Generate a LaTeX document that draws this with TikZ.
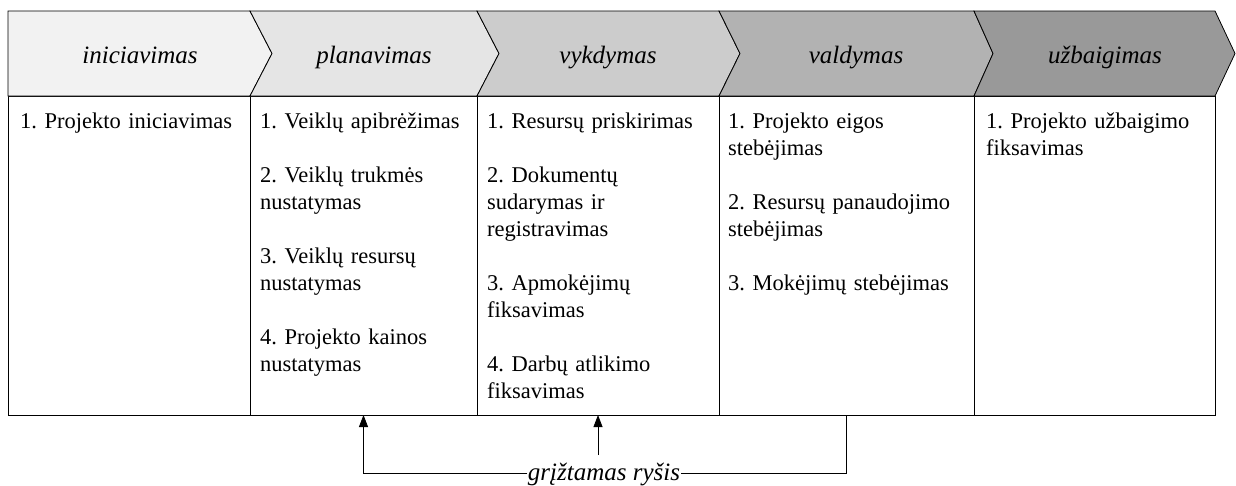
\documentclass[tikz,border=0pt]{standalone}
\usepackage{fontspec}
\setmainfont{Liberation Serif}
\usetikzlibrary{arrows.meta}
\definecolor{phA}{HTML}{F2F2F2}
\definecolor{phB}{HTML}{E5E5E5}
\definecolor{phC}{HTML}{CCCCCC}
\definecolor{phD}{HTML}{B2B2B2}
\definecolor{phE}{HTML}{999999}
\frenchspacing
\begin{document}
\begin{tikzpicture}[x=1pt,y=-1pt,
  phase/.style={draw=black, line width=0.8pt, line join=miter},
  phasetext/.style={font=\fontsize{25}{30}\selectfont\itshape, anchor=base, inner sep=0pt},
  column/.style={draw=black, line width=0.8pt, rectangle, anchor=north west,
    minimum height=319pt, inner sep=0pt, outer sep=0pt},
  item/.style={font=\fontsize{22.5}{27}\selectfont, anchor=base west, inner sep=0pt,
    text width=235pt, align=left},
  fbtext/.style={font=\fontsize{25}{30}\selectfont\itshape, anchor=base, inner sep=0.5pt},
  fbline/.style={draw=black, line width=0.8pt},
  fbarrow/.style={fbline, -{Triangle[length=12pt,width=9pt]}}
]
\useasboundingbox (0,0) rectangle (1236,485);

% activity columns
\node[column, minimum width=242pt] (c1) at (8,96) {};
\node[column, minimum width=227pt] (c2) at (250,96) {};
\node[column, minimum width=242pt] (c3) at (477,96) {};
\node[column, minimum width=255pt] (c4) at (719,96) {};
\node[column, minimum width=241pt] (c5) at (974,96) {};

% phase chevrons
\filldraw[phase, fill=phA] (8,11) -- (250,11) -- (272,53.5) -- (250,96) -- (8,96) -- cycle;
\filldraw[phase, fill=phB] (250,11) -- (477,11) -- (499,53.5) -- (477,96) -- (250,96) -- (272,53.5) -- cycle;
\filldraw[phase, fill=phC] (477,11) -- (719,11) -- (740,53.5) -- (719,96) -- (477,96) -- (499,53.5) -- cycle;
\filldraw[phase, fill=phD] (719,11) -- (974,11) -- (993,53.5) -- (974,96) -- (719,96) -- (740,53.5) -- cycle;
\filldraw[phase, fill=phE] (974,11) -- (1215,11) -- (1235,53.5) -- (1215,96) -- (974,96) -- (993,53.5) -- cycle;

\node[phasetext] (h1) at (140,63) {iniciavimas};
\node[phasetext] (h2) at (374,63) {planavimas};
\node[phasetext] (h3) at (608,63) {vykdymas};
\node[phasetext] (h4) at (856,63) {valdymas};
\node[phasetext] (h5) at (1105,63) {užbaigimas};

% activities of each phase
\node[item] (t1) at (20,128) {1. Projekto iniciavimas};
\node[item] (t2) at (260,128) {1. Veiklų apibrėžimas\\[27pt]
  2. Veiklų trukmės\\ nustatymas\\[27pt]
  3. Veiklų resursų\\ nustatymas\\[27pt]
  4. Projekto kainos\\ nustatymas};
\node[item] (t3) at (487,128) {1. Resursų priskirimas\\[27pt]
  2. Dokumentų\\ sudarymas ir\\ registravimas\\[27pt]
  3. Apmokėjimų\\ fiksavimas\\[27pt]
  4. Darbų atlikimo\\ fiksavimas};
\node[item] (t4) at (728,128) {1. Projekto eigos\\ stebėjimas\\[27pt]
  2. Resursų panaudojimo\\ stebėjimas\\[27pt]
  3. Mokėjimų stebėjimas};
\node[item] (t5) at (986,128) {1. Projekto užbaigimo\\ fiksavimas};

% feedback loop
\node[fbtext] (fb) at (604,480) {grįžtamas ryšis};
\draw[fbline] (c4.south) |- ([yshift=7pt]fb.base east);
\draw[fbarrow] ([yshift=7pt]fb.base west) -| (c2.south);
\draw[fbarrow] ([yshift=-40pt]c3.south) -- (c3.south);
\end{tikzpicture}
\end{document}
